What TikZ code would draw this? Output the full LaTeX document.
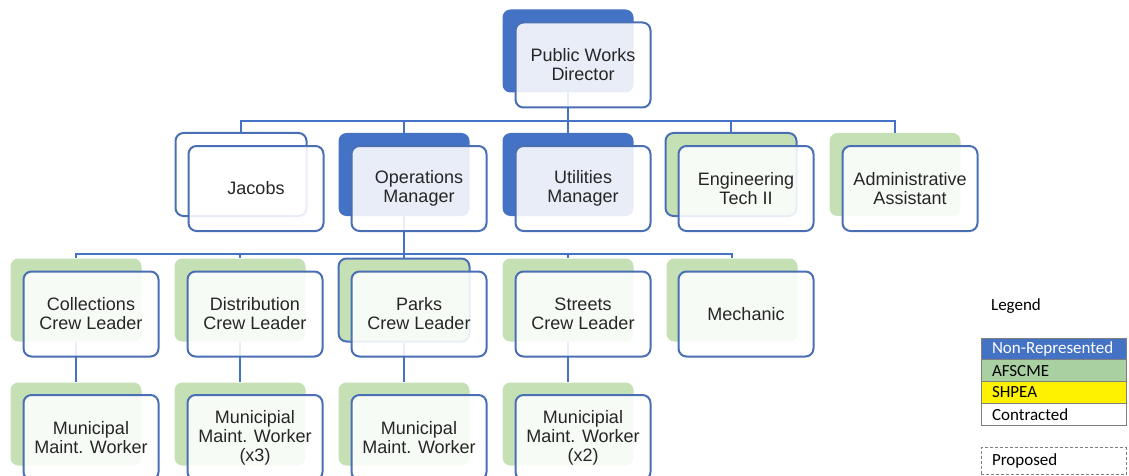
\documentclass[tikz,border=0pt]{standalone}
\usepackage{fontspec}
\setmainfont{Liberation Sans}
\newfontfamily\legfont{Carlito}
\definecolor{nrblue}{HTML}{4472C4}
\definecolor{edgeblue}{HTML}{4A6FB5}
\definecolor{lightgreen}{HTML}{C5E0B4}
\definecolor{afgreen}{HTML}{A9D0A0}
\definecolor{legline}{HTML}{7F7F7F}
\definecolor{boxtext}{HTML}{262626}
\tikzset{
  backbox/.style={rounded corners=8pt, minimum width=131pt, minimum height=83pt, inner sep=0pt},
  nrbox/.style={backbox, fill=nrblue},
  afbox/.style={backbox, fill=lightgreen},
  afedgebox/.style={backbox, fill=lightgreen, draw=edgeblue, line width=2pt},
  ctbox/.style={backbox, fill=white, draw=edgeblue, line width=2pt},
  frontbox/.style={rounded corners=8pt, draw=edgeblue, line width=2pt, fill=white,
    fill opacity=0.88, text opacity=1, text=boxtext, minimum width=135pt, minimum height=85pt,
    inner sep=2pt, align=center, font=\fontsize{18}{19}\selectfont},
  link/.style={draw=nrblue, line width=1.8pt},
  legrow/.style={draw=legline, line width=1pt, minimum height=22pt, text width=123pt,
    inner xsep=11pt, inner ysep=0pt, align=left, font=\legfont\fontsize{17}{19}\selectfont}
}
\begin{document}
\begin{tikzpicture}[x=1pt, y=-1pt]
\useasboundingbox (0,0) rectangle (1129,476);
\clip (0,0) rectangle (1129,476);
% back boxes
\node[nrbox] (dirB) at (568,51) {};
\node[ctbox] (jacB) at (241,174.5) {};
\node[nrbox] (opsB) at (404,174.5) {};
\node[nrbox] (utiB) at (568,174.5) {};
\node[afedgebox] (engB) at (731,174.5) {};
\node[afbox] (admB) at (895,174.5) {};
\node[afbox] (colB) at (76,300) {};
\node[afbox] (disB) at (240,300) {};
\node[afedgebox] (parB) at (404,300) {};
\node[afbox] (strB) at (568,300) {};
\node[afbox] (mecB) at (732,300) {};
\node[afbox] (colwB) at (76,424) {};
\node[afbox] (diswB) at (240,424) {};
\node[afbox] (parwB) at (404,424) {};
\node[afbox] (strwB) at (568,424) {};
% connectors
\coordinate (bustop) at (568,121);
\coordinate (busops) at (404,254);
\draw[link] (dirB.south) -- (bustop);
\draw[link] (bustop) -| (jacB.north);
\draw[link] (bustop) -| (opsB.north);
\draw[link] (bustop) -- (utiB.north);
\draw[link] (bustop) -| (engB.north);
\draw[link] (bustop) -| (admB.north);
\draw[link] (opsB.south) -- (busops);
\draw[link] (busops) -| (colB.north);
\draw[link] (busops) -| (disB.north);
\draw[link] (busops) -- (parB.north);
\draw[link] (busops) -| (strB.north);
\draw[link] (busops) -| (mecB.north);
\draw[link] (colB.south) -- (colwB.north);
\draw[link] (disB.south) -- (diswB.north);
\draw[link] (parB.south) -- (parwB.north);
\draw[link] (strB.south) -- (strwB.north);
% front boxes
\node[frontbox] (dir) at (583,65) {Public Works\\Director};
\node[frontbox] (jac) at (256,188.5) {Jacobs};
\node[frontbox] (ops) at (419,188.5) {Operations\\Manager};
\node[frontbox] (uti) at (583,188.5) {Utilities\\Manager};
\node[frontbox] (eng) at (746,188.5) {Engineering\\Tech II};
\node[frontbox] (adm) at (910,188.5) {Administrative\\Assistant};
\node[frontbox] (col) at (91,314) {Collections\\Crew Leader};
\node[frontbox] (dis) at (255,314) {Distribution\\Crew Leader};
\node[frontbox] (par) at (419,314) {Parks\\Crew Leader};
\node[frontbox] (str) at (583,314) {Streets\\Crew Leader};
\node[frontbox] (mec) at (746,314) {Mechanic};
\node[frontbox] (colw) at (91,437.5) {Municipal\\Maint. Worker};
\node[frontbox] (disw) at (255,437.5) {Municipial\\Maint. Worker\\(x3)};
\node[frontbox] (parw) at (419,437.5) {Municipal\\Maint. Worker};
\node[frontbox] (strw) at (583,437.5) {Municipial\\Maint. Worker\\(x2)};
% legend
\node[font=\legfont\fontsize{17}{19}\selectfont] (legtitle) at (1016,306) {Legend};
\node[legrow, fill=nrblue, text=white] (lnr) at (1053.5,349.3) {Non-Represented};
\node[legrow, fill=afgreen] (laf) at (1053.5,370.8) {AFSCME};
\node[legrow, fill=yellow] (lsh) at (1053.5,392.2) {SHPEA};
\node[legrow, fill=white] (lct) at (1053.5,414.7) {Contracted};
\node[legrow, dash pattern=on 3pt off 2pt, minimum height=27pt] (lprop) at (1053.5,461) {Proposed};
\end{tikzpicture}
\end{document}
